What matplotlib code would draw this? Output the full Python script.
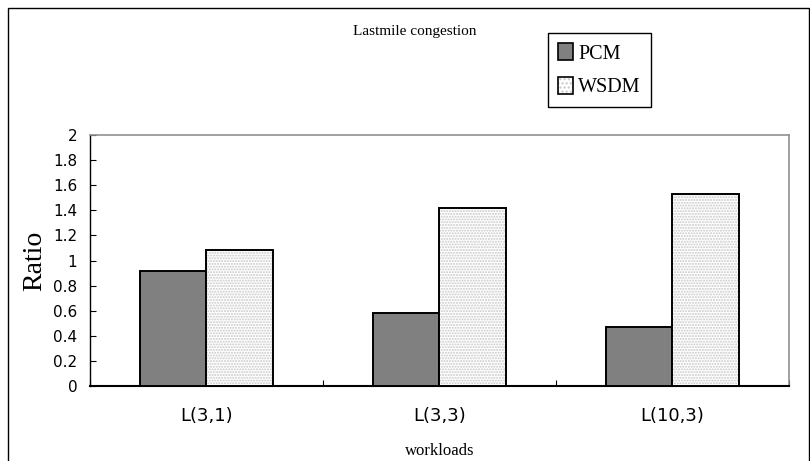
import matplotlib
matplotlib.use("Agg")
import matplotlib.pyplot as plt
import numpy as np
from matplotlib.patches import Patch, Rectangle
from matplotlib.legend_handler import HandlerTuple

workloads = ["L(3,1)", "L(3,3)", "L(10,3)"]
pcm = [0.917, 0.585, 0.471]
wsdm = [1.087, 1.419, 1.534]
y_ticks = [0, 0.2, 0.4, 0.6, 0.8, 1, 1.2, 1.4, 1.6, 1.8, 2]

SERIF = "Liberation Serif"
SANS = "DejaVu Sans"

fig = plt.figure(figsize=(8.1, 4.61), dpi=100)
ax = fig.add_axes([0.111, 0.1627, 0.863, 0.5443])

x = np.arange(len(workloads))
width = 0.284

ax.bar(x - width / 2, pcm, width, color="#808080", edgecolor="black", linewidth=1.4, zorder=3)
# dotted fill first, black outline on top
ax.bar(x + width / 2, wsdm, width, color="white", edgecolor="#c8c8c8", hatch="......",
       linewidth=0, zorder=3)
ax.bar(x + width / 2, wsdm, width, fill=False, edgecolor="black", linewidth=1.4, zorder=4)

ax.set_xlim(-0.5, len(workloads) - 0.5)
ax.set_ylim(0, 2)
ax.set_yticks(y_ticks)
ax.set_yticklabels([f"{v:g}" for v in y_ticks], fontfamily=SANS, fontsize=11)
ax.set_xticks(x)
ax.set_xticklabels(workloads, fontfamily=SANS, fontsize=13)
ax.set_xticks(np.arange(len(workloads) + 1) - 0.5, minor=True)
ax.tick_params(axis="x", which="major", length=0, pad=15)
ax.tick_params(axis="x", which="minor", direction="in", length=4, width=0.8)
ax.tick_params(axis="y", direction="in", length=4, width=0.8, pad=9)

ax.spines["left"].set_color("black")
ax.spines["left"].set_linewidth(1.0)
ax.spines["bottom"].set_color("black")
ax.spines["bottom"].set_linewidth(1.5)
for side in ("top", "right"):
    ax.spines[side].set_color("#909090")
    ax.spines[side].set_linewidth(1.2)

ax.set_ylabel("Ratio", fontfamily=SERIF, fontsize=20, labelpad=4)
ax.set_xlabel("workloads", fontfamily=SERIF, fontsize=12, labelpad=13)
fig.text(0.512, 0.932, "Lastmile congestion", fontfamily=SERIF, fontsize=11, ha="center", va="center")

pcm_handle = Patch(facecolor="#808080", edgecolor="black", linewidth=1.2)
wsdm_dots = Patch(facecolor="white", edgecolor="#c8c8c8", hatch="....", linewidth=0)
wsdm_edge = Patch(fill=False, edgecolor="black", linewidth=1.2)
leg = fig.legend([pcm_handle, (wsdm_dots, wsdm_edge)], ["PCM", "WSDM"],
                 handler_map={tuple: HandlerTuple(ndivide=1, pad=0)},
                 loc="upper left", bbox_to_anchor=(548 / 810, 1 - 33 / 461),
                 bbox_transform=fig.transFigure,
                 prop={"family": SERIF, "size": 14.5}, frameon=True, fancybox=False,
                 edgecolor="black", framealpha=1, handlelength=0.75, handleheight=0.95,
                 handletextpad=0.25, labelspacing=0.65, borderpad=0.5, borderaxespad=0)
leg.get_frame().set_linewidth(1.0)

# outer chart border
fig.add_artist(Rectangle((8 / 810, -0.01), 1 - 8 / 810 - 0.001, 1 - 8 / 461 + 0.01,
                         transform=fig.transFigure, fill=False, edgecolor="black", linewidth=1.0))

fig.savefig("out.png", dpi=100)
